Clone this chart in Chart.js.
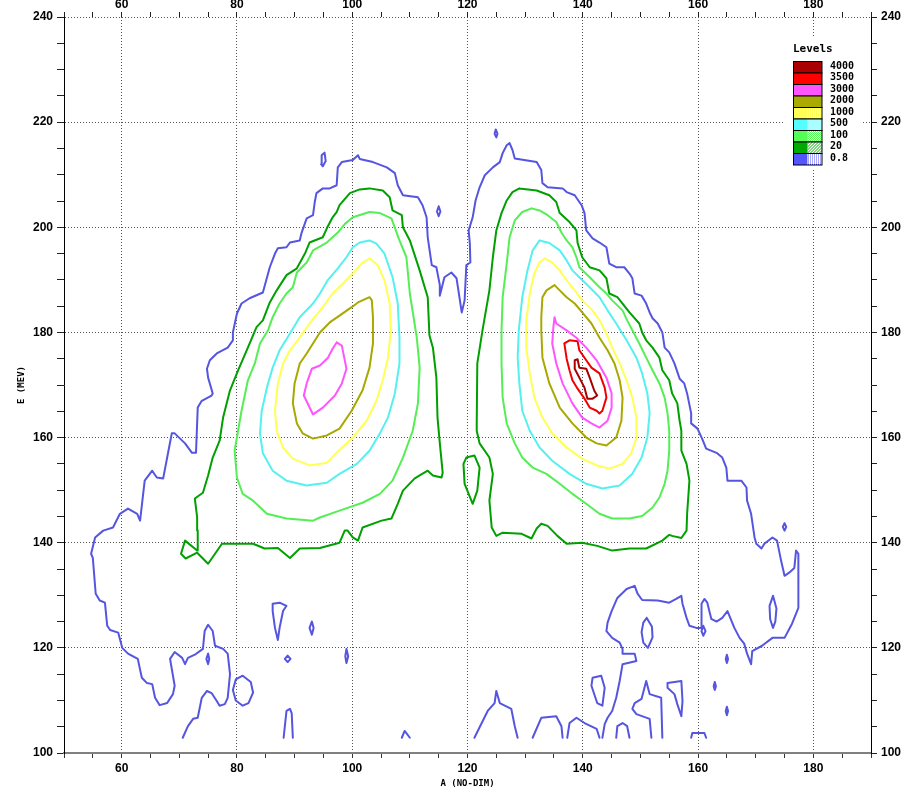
<!DOCTYPE html>
<html>
<head>
<meta charset="utf-8">
<script src="https://cdn.jsdelivr.net/npm/chart.js@4/dist/chart.umd.min.js"></script>
<style>
  html, body { margin: 0; padding: 0; background: #fff; }
  canvas { display: block; }
</style>
</head>
<body>
<canvas id="contourChart" width="907" height="792"></canvas>
<script>
// levels shown in the legend box, top to bottom
const levels = ['4000', '3500', '3000', '2000', '1000', '500', '100', '20', '0.8'];
const levelFill = ['#aa0000', '#ff0000', '#ff55ff', '#aaaa00', '#ffff55', '#55ffff', '#55ff55', '#00aa00', '#5555ff'];
const levelLine = ['#a80000', '#f00000', '#ff55ff', '#a8a800', '#ffff55', '#55f0f0', '#55ee55', '#00a000', '#5555e0'];

const xLabels = [60, 80, 100, 120, 140, 160, 180];
const yLabels = [100, 120, 140, 160, 180, 200, 220, 240];

// ---- 0.8 level (blue) ----
const blueMain = [
  [70.6,102.9],[71.5,105.1],[72.4,106.5],[73.2,106.7],[73.9,110.5],[74.8,111.8],[75.6,111.4],[76.5,109.9],[77.0,109.0],[77.9,109.3],
  [78.4,110.5],[78.8,115.0],[78.4,118.9],[77.6,119.8],[76.2,120.4],[75.8,123.2],[75.0,124.4],[74.4,123.2],[74.1,119.8],[72.7,118.7],
  [71.5,118.1],[71.0,116.9],[70.5,118.1],[69.2,119.2],[68.4,117.9],[69.2,112.8],[68.9,111.2],[67.9,109.5],[66.6,109.1],[65.8,110.5],
  [65.3,113.1],[64.4,113.3],[63.5,114.3],[62.8,117.9],[61.1,118.9],[60.1,120.0],[59.4,122.9],[58.0,123.4],[57.5,124.2],[57.1,128.6],
  [56.2,129.0],[55.5,130.3],[55.0,137.1],[54.7,137.9],[55.4,141.0],[56.8,142.3],[58.5,142.9],[59.7,145.5],[61.1,146.5],[62.7,145.5],
  [63.2,144.2],[64.0,151.8],[65.3,153.7],[66.1,152.4],[67.2,152.2],[67.9,156.2],[68.7,160.8],[69.2,160.8],[71.0,158.9],[72.2,157.1],
  [72.9,157.1],[73.2,165.7],[73.9,167.0],[75.6,168.0],[75.8,168.4],[75.0,171.4],[74.8,173.1],[75.3,174.7],[76.5,176.0],[78.4,177.1],
  [79.3,178.5],[79.3,180.0],[80.0,183.6],[80.8,185.5],[82.2,186.5],[84.5,187.6],[85.7,192.4],[86.6,195.0],[87.1,196.0],[88.6,196.2],
  [89.2,197.1],[90.9,197.5],[91.2,198.9],[92.1,201.7],[93.2,202.3],[93.5,204.8],[93.8,206.5],[94.9,207.4],[96.1,207.4],[97.3,208.0],
  [97.5,211.4],[98.2,212.4],[100.1,212.8],[101.0,213.7],[101.3,213.0],[103.6,212.4],[106.0,211.4],[107.4,210.3],[107.9,208.0],[108.8,206.1],
  [111.4,205.7],[112.2,204.2],[112.9,201.9],[113.1,198.1],[113.8,192.8],[114.6,192.4],[115.2,189.0],[115.2,187.0],[116.0,190.5],[117.2,191.4],
  [118.1,190.3],[118.6,186.7],[119.0,183.8],[119.5,186.1],[119.8,192.8],[120.5,193.3],[120.4,197.0],[120.2,199.4],[120.9,201.9],[121.4,205.1],
  [122.1,207.6],[123.0,209.9],[124.4,211.4],[125.6,212.4],[126.1,214.1],[126.8,215.6],[127.3,216.0],[127.8,214.7],[128.2,213.1],[132.0,212.4],
  [132.8,210.9],[133.0,208.4],[133.9,207.6],[136.5,207.4],[137.2,206.7],[138.6,206.1],[139.8,204.2],[140.3,202.7],[140.6,199.4],[141.7,197.9],
  [142.9,197.1],[144.1,196.2],[144.6,193.1],[145.8,192.4],[147.2,192.4],[148.1,191.2],[148.6,190.3],[149.0,187.4],[150.2,187.0],[151.0,185.5],
  [151.6,183.8],[152.1,182.7],[153.0,181.7],[153.8,180.0],[154.2,177.1],[155.0,176.2],[155.9,174.1],[156.8,171.2],[157.6,170.3],[158.1,168.4],
  [158.8,164.6],[158.8,162.7],[159.9,161.7],[160.7,159.8],[161.4,157.9],[163.2,157.1],[164.2,156.2],[164.9,154.3],[165.1,151.8],[167.5,151.8],
  [168.4,150.5],[168.5,148.0],[169.2,145.5],[169.8,141.0],[170.1,139.8],[171.0,138.9],[171.5,139.8],[172.9,141.0],[173.7,140.4],[174.4,136.6],
  [175.0,133.7],[175.8,134.3],[176.7,135.2],[177.0,138.5],[177.4,137.9],[177.4,127.6],[176.3,124.6],[175.0,121.9],[172.9,121.9],[171.1,120.4],
  [169.4,119.4],[169.2,116.9],[168.5,118.9],[168.0,120.8],[167.2,121.9],[166.3,123.8],[165.1,127.0],[164.2,125.7],[163.2,125.0],[162.3,125.5],
  [161.6,128.6],[161.1,129.3],[160.6,128.4],[160.6,123.8],[159.7,123.8],[158.5,124.2],[158.0,125.7],[157.3,128.4],[157.1,129.9],[156.2,129.3],
  [155.0,128.6],[153.0,129.0],[150.3,129.1],[149.5,130.3],[149.0,131.8],[147.6,131.2],[146.0,129.5],[145.0,127.0],[144.3,124.8],[144.1,123.2],
  [145.1,121.9],[146.4,121.0],[146.9,119.8],[146.9,118.9],[149.0,118.9],[149.3,117.5],[146.9,116.9],[146.4,113.7],[145.8,110.5],[145.1,108.0],
  [144.3,106.7],[143.8,105.5],[143.4,102.9]
];

// small closed blue islands
const blueIslands = [
  [[94.6,212.0],[94.7,213.7],[95.2,214.2],[95.4,212.6],[94.9,211.6]],
  [[115.0,204.0],[115.3,203.0],[115.0,202.1],[114.7,203.0]],
  [[124.9,218.6],[125.2,217.8],[125.0,217.1],[124.7,217.8]],
  [[175.0,143.7],[175.3,143.0],[175.0,142.3],[174.7,143.0]],
  [[173.0,129.9],[173.6,127.5],[173.4,125.0],[173.0,123.8],[172.5,125.5],[172.4,128.0]],
  [[151.1,125.7],[152.0,124.0],[152.1,122.0],[151.3,120.0],[150.5,121.0],[150.2,123.0],[150.5,124.8]],
  [[160.9,124.2],[161.3,123.2],[160.9,122.3],[160.6,123.2]],
  [[165.0,118.7],[165.2,117.9],[165.0,117.1],[164.8,117.9]],
  [[162.9,113.5],[163.1,112.7],[162.9,112.0],[162.7,112.7]],
  [[165.0,108.8],[165.2,108.0],[165.0,107.2],[164.8,108.0]],
  [[141.7,114.3],[143.2,114.7],[143.8,112.4],[143.4,109.0],[142.5,109.5],[141.5,112.8]],
  [[154.7,113.3],[157.1,113.7],[157.3,109.9],[157.1,107.0],[156.4,109.3],[155.9,111.2],[154.7,112.4]],
  [[86.2,128.4],[87.4,128.6],[88.6,128.0],[88.0,127.0],[87.4,123.8],[87.1,121.5],[86.6,123.8],[86.2,127.0]],
  [[93.0,125.0],[93.3,123.8],[93.0,122.5],[92.6,123.8]],
  [[75.0,118.9],[75.2,117.9],[75.0,116.9],[74.7,117.9]],
  [[88.8,118.5],[89.3,117.9],[88.8,117.3],[88.3,117.9]],
  [[99.0,119.8],[99.3,118.4],[99.0,117.1],[98.8,118.4]],
  [[81.0,114.7],[82.4,113.5],[82.8,111.5],[82.0,109.5],[81.0,109.0],[79.8,110.0],[79.3,112.0],[79.8,114.0]]
];

// open blue pieces cut by the lower edge of the data
const blueBottom = [
  [[121.2,102.9],[123.5,108.0],[124.7,109.5],[125.0,111.8],[125.6,109.5],[127.6,108.4],[128.2,105.1],[128.7,102.9]],
  [[131.3,102.9],[132.8,106.7],[135.4,107.0],[136.3,105.1],[136.5,102.9]],
  [[137.3,102.9],[137.7,105.7],[138.9,106.7],[140.3,105.7],[142.4,104.6],[142.9,102.9]],
  [[145.8,102.9],[146.0,105.1],[146.9,105.7],[147.7,105.1],[148.1,102.9]],
  [[151.9,102.9],[151.6,106.5],[149.3,107.4],[148.6,108.4],[149.0,109.5],[150.2,110.3],[150.7,112.4],[151.0,113.7],[151.6,111.2],[153.6,110.5],[153.8,102.9]],
  [[158.8,102.9],[159.0,103.8],[161.1,103.8],[161.4,102.9]],
  [[88.1,102.9],[88.6,108.0],[89.2,108.4],[89.5,107.6],[89.7,102.9]],
  [[108.6,102.9],[109.1,104.2],[110.0,102.9]]
];

// ---- 20 level (dark green) ----
const green20Left = [
  [73.2,142.3],[73.1,144.8],[72.7,148.4],[74.1,149.5],[75.0,152.8],[75.8,156.2],[77.0,159.4],[77.6,163.8],[78.8,169.0],[80.2,172.8],
  [81.9,177.1],[83.4,181.0],[84.5,182.3],[85.7,185.7],[86.9,188.0],[88.6,190.9],[90.4,192.2],[91.8,195.0],[92.6,197.1],[94.9,198.1],
  [95.6,199.8],[96.6,201.9],[97.3,202.9],[97.8,204.2],[99.6,206.5],[101.3,207.2],[103.0,207.4],[105.3,207.0],[106.5,205.7],[107.0,203.2],
  [108.6,202.3],[108.8,200.0],[110.0,197.5],[111.7,191.8],[113.1,186.7],[113.4,179.4],[114.0,177.1],[114.6,171.4],[114.8,163.8],[115.2,158.9],
  [115.7,153.3],[115.5,152.4],[114.0,152.8],[113.1,153.7],[111.7,152.8],[110.8,152.2],[108.8,149.9],[107.9,147.4],[106.8,144.6],[105.1,144.2],
  [101.8,142.9],[101.0,140.4],[100.1,141.0],[99.2,142.3],[98.7,142.3],[97.8,140.0],[94.4,139.0],[90.9,138.9],[89.2,137.1],[87.1,139.0],
  [84.8,138.9],[82.8,139.8],[77.4,139.8],[75.0,136.0],[73.1,138.1],[71.1,137.0],[70.3,137.9],[71.0,140.4],[73.1,138.5]
];
const green20Right = [
  [129.0,207.4],[132.0,207.0],[134.2,206.1],[135.4,204.8],[136.0,202.7],[137.7,201.0],[138.9,199.4],[139.1,197.0],[139.9,194.3],[141.2,192.4],
  [142.9,191.8],[144.1,190.3],[144.6,187.4],[146.0,186.7],[146.9,185.5],[148.1,183.8],[149.8,181.7],[150.3,180.0],[151.0,178.5],[152.1,177.1],
  [153.3,175.2],[153.8,172.8],[155.0,170.9],[155.5,168.4],[156.4,166.5],[156.8,163.2],[157.1,161.3],[157.1,157.5],[158.0,155.0],[158.5,151.8],
  [158.1,145.5],[158.0,142.3],[157.1,140.9],[155.5,141.3],[155.0,141.5],[153.8,140.4],[151.0,138.9],[148.1,138.9],[145.1,138.5],[142.5,139.4],
  [139.9,140.0],[137.2,139.8],[135.6,141.3],[133.9,143.2],[132.8,143.6],[132.0,142.7],[131.1,140.8],[129.4,141.7],[126.1,141.9],[125.0,141.3],
  [124.2,142.9],[123.8,148.0],[124.4,153.1],[123.8,156.2],[122.1,158.9],[121.6,161.3],[121.6,162.7],[121.7,174.1],[122.6,180.4],[123.8,188.0],
  [124.4,194.3],[125.0,199.4],[125.9,202.7],[126.8,205.1],[127.8,206.7]
];
const green20Island = [[119.8,156.2],[121.2,156.6],[122.1,154.3],[121.7,149.9],[120.9,147.4],[119.5,151.2],[119.3,155.0]];

// ---- 100 level (light green) ----
const green100Left = [
  [100.1,201.9],[103.0,202.9],[104.8,202.7],[106.8,201.7],[108.2,197.5],[109.4,194.3],[110.0,187.4],[111.2,179.0],[111.7,173.3],[111.4,166.5],
  [110.5,161.3],[108.8,156.2],[107.0,151.8],[104.8,149.3],[101.8,147.6],[97.8,146.1],[94.4,144.8],[93.2,144.2],[88.6,144.6],[85.2,145.5],
  [82.8,148.0],[81.0,149.3],[80.0,152.4],[79.6,157.5],[80.2,161.3],[80.8,165.1],[81.9,170.9],[83.1,174.1],[84.0,177.9],[85.4,180.4],
  [86.2,182.9],[87.4,185.5],[88.6,187.4],[89.7,188.6],[90.4,191.4],[92.1,193.3],[93.2,195.6],[95.6,197.1],[97.5,199.0],[98.7,200.6]
];
const green100Right = [
  [131.1,203.6],[132.5,203.2],[133.9,202.3],[135.4,201.0],[136.3,199.0],[137.2,197.5],[138.2,196.2],[138.9,194.3],[139.4,192.4],[141.2,190.5],
  [142.9,188.6],[144.1,187.4],[145.1,186.1],[146.9,184.2],[147.7,182.3],[148.6,180.4],[149.8,177.9],[151.0,175.2],[152.1,172.8],[153.3,170.3],
  [154.2,167.6],[154.7,164.6],[155.0,161.3],[155.0,157.5],[154.7,153.7],[154.2,151.2],[153.3,148.6],[152.1,146.7],[150.3,145.1],[148.1,144.6],
  [145.1,144.6],[142.9,145.5],[140.6,147.4],[138.2,149.3],[136.0,151.2],[133.7,153.1],[131.3,154.3],[129.5,156.2],[128.2,158.9],[126.8,162.7],
  [126.1,167.6],[125.9,174.1],[125.9,180.4],[126.1,186.7],[126.8,193.1],[127.3,198.1],[128.2,201.3],[129.5,202.9]
];

// ---- 500 level (cyan) ----
const cyan500Left = [
  [103.0,197.5],[101.3,197.1],[100.1,196.2],[99.0,194.3],[97.5,192.2],[95.8,190.0],[94.4,187.4],[93.2,185.5],[90.9,182.9],[89.2,179.8],
  [87.4,176.6],[86.2,173.3],[85.2,169.5],[84.3,165.1],[84.0,160.8],[84.5,157.0],[86.2,153.7],[88.6,151.8],[92.1,150.9],[95.6,151.4],
  [97.8,153.1],[100.8,155.0],[103.0,157.5],[104.8,160.8],[106.2,163.8],[107.4,168.4],[108.2,174.1],[108.2,179.0],[107.9,185.5],[107.0,190.5],
  [105.6,195.0],[104.2,196.9]
];
const cyan500Right = [
  [132.5,197.5],[134.2,197.0],[136.0,195.6],[137.2,193.7],[138.2,191.8],[139.4,190.5],[141.2,188.6],[142.9,186.7],[144.3,184.2],[145.8,181.7],
  [147.6,178.5],[149.3,175.2],[150.3,172.2],[151.2,168.4],[151.6,164.6],[151.2,160.0],[150.2,156.2],[148.6,153.1],[146.4,150.9],[143.4,150.3],
  [140.6,151.2],[137.7,153.1],[134.7,155.6],[132.5,158.1],[130.8,161.3],[129.5,165.1],[129.0,170.3],[128.7,175.2],[128.9,180.4],[129.5,186.7],
  [130.4,191.8],[131.3,195.6]
];

// ---- 1000 level (yellow) ----
const yellow1000Left = [
  [103.0,194.1],[101.6,193.1],[100.1,191.2],[98.4,189.3],[96.6,187.4],[94.9,184.8],[92.6,181.7],[90.9,179.0],[89.2,176.6],[88.0,174.1],
  [87.1,170.3],[86.6,165.1],[86.9,161.3],[88.0,158.1],[89.7,156.0],[92.6,154.7],[95.6,155.2],[97.3,157.1],[100.1,160.0],[102.5,163.2],
  [104.2,167.0],[105.3,170.9],[106.2,175.2],[106.7,180.4],[106.5,185.5],[105.6,189.9],[104.4,192.8]
];
const yellow1000Right = [
  [133.4,194.1],[134.7,193.3],[136.0,191.8],[137.2,189.9],[138.6,188.0],[139.9,186.1],[141.7,184.2],[142.9,182.3],[144.1,179.8],[145.1,177.1],
  [146.4,174.1],[147.6,170.9],[148.6,167.6],[149.3,163.8],[149.3,160.0],[148.4,157.0],[146.9,155.0],[144.6,154.1],[142.4,154.7],[139.9,156.0],
  [137.2,158.1],[134.7,160.8],[133.0,163.8],[131.6,167.6],[130.8,172.2],[130.2,177.1],[130.2,182.3],[130.8,187.4],[131.6,191.2],[132.5,193.3]
];

// ---- 2000 level (olive) ----
const olive2000Left = [
  [103.0,186.7],[101.0,185.7],[99.9,184.8],[97.8,183.2],[96.1,181.9],[94.4,180.0],[92.1,176.0],[90.9,174.1],[90.0,170.3],[89.7,166.5],
  [90.4,162.7],[91.4,160.8],[93.2,159.8],[95.6,160.4],[97.8,161.7],[99.9,165.1],[101.8,169.0],[103.0,173.3],[103.6,177.9],[103.6,182.9],
  [103.4,186.1]
];
const olive2000Right = [
  [135.1,189.0],[136.0,188.0],[137.2,186.7],[138.6,185.5],[139.9,183.8],[141.5,181.7],[142.9,179.0],[144.3,176.6],[145.5,174.1],[146.4,170.9],
  [146.9,167.6],[146.7,163.2],[145.8,160.0],[144.1,158.5],[142.4,158.9],[140.6,160.0],[138.2,162.7],[136.0,165.7],[134.2,170.3],[133.0,175.2],
  [132.8,180.4],[132.8,182.9],[133.0,186.7],[133.7,188.0]
];

// ---- 3000 level (magenta) ----
const magenta3000Left = [
  [97.3,178.1],[98.2,177.5],[99.0,173.1],[98.2,170.3],[97.0,168.0],[94.9,165.7],[93.2,164.4],[91.6,168.0],[92.1,170.3],[93.0,173.1],
  [94.4,173.7],[95.8,175.2],[96.6,176.9]
];
const magenta3000Right = [
  [135.1,182.9],[135.4,181.7],[137.2,180.4],[138.9,179.0],[140.6,177.1],[142.4,174.7],[144.1,171.4],[145.0,168.4],[145.0,165.7],[144.3,163.2],
  [142.9,161.9],[141.5,162.7],[139.9,163.8],[138.2,166.5],[136.5,170.3],[135.4,174.1],[134.7,177.9],[134.9,181.0]
];

// ---- 3500 level (red) ----
const red3500 = [
  [136.8,177.9],[137.7,178.5],[139.1,178.3],[139.4,176.6],[140.6,174.7],[141.5,173.3],[142.9,172.2],[143.8,169.5],[144.1,167.6],[143.4,165.1],
  [142.9,164.6],[142.4,165.1],[141.2,165.7],[140.3,167.4],[139.1,169.3],[138.2,170.9],[137.7,172.8],[137.2,175.0]
];

// ---- 4000 level (dark red) ----
const darkRed4000 = [
  [138.6,174.7],[139.1,174.9],[139.4,173.3],[140.6,173.1],[141.2,171.4],[142.0,168.9],[142.5,168.0],[141.7,167.4],[140.8,167.4],[140.3,169.5],
  [139.4,171.4],[138.6,173.1]
];

// ------------------------------------------------------------
function contour(pts, color, closed) {
    const data = pts.map(p => ({x: p[0], y: p[1]}));
    if (closed) data.push({x: pts[0][0], y: pts[0][1]});
    return {
        data: data,
        showLine: true,
        borderColor: color,
        borderWidth: 2,
        pointRadius: 0,
        pointHoverRadius: 0,
        tension: 0,
        fill: false,
        borderJoinStyle: 'round',
        borderCapStyle: 'round'
    };
}

const blue = levelLine[8];
const datasets = [contour(blueMain, blue, false)];
blueIslands.forEach(p => datasets.push(contour(p, blue, true)));
blueBottom.forEach(p => datasets.push(contour(p, blue, false)));
datasets.push(contour(green20Left, levelLine[7], true));
datasets.push(contour(green20Right, levelLine[7], true));
datasets.push(contour(green20Island, levelLine[7], true));
datasets.push(contour(green100Left, levelLine[6], true));
datasets.push(contour(green100Right, levelLine[6], true));
datasets.push(contour(cyan500Left, levelLine[5], true));
datasets.push(contour(cyan500Right, levelLine[5], true));
datasets.push(contour(yellow1000Left, levelLine[4], true));
datasets.push(contour(yellow1000Right, levelLine[4], true));
datasets.push(contour(olive2000Left, levelLine[3], true));
datasets.push(contour(olive2000Right, levelLine[3], true));
datasets.push(contour(magenta3000Left, levelLine[2], true));
datasets.push(contour(magenta3000Right, levelLine[2], true));
datasets.push(contour(red3500, levelLine[1], true));
datasets.push(contour(darkRed4000, levelLine[0], true));

// ticks every 5 units, labels only on the 20s
function everyFive(min, max) {
    const out = [];
    for (let v = min; v <= max; v += 5) out.push({value: v});
    return out;
}
const tickFont = {family: '"Liberation Sans", Arial, sans-serif', size: 12, weight: 'bold'};
const gridColor = ctx => (ctx.tick && ctx.tick.value % 20 === 0) ? '#555' : 'rgba(0,0,0,0)';

function axis(pos, min, max, labels, extra) {
    const isX = pos === 'top' || pos === 'bottom';
    return Object.assign({
        type: 'linear',
        position: pos,
        min: min,
        max: max,
        afterBuildTicks: s => { s.ticks = everyFive(min, max); },
        ticks: {
            autoSkip: false,
            maxRotation: 0,
            color: '#000',
            font: tickFont,
            callback: v => labels.includes(v) ? String(v) : ''
        },
        grid: {
            drawOnChartArea: false,
            color: gridColor,
            tickColor: '#222',
            tickLength: isX ? 5 : 7
        },
        border: {color: '#000', width: 1}
    }, extra);
}

// the "Levels" box in the upper right
const levelsBox = {
    id: 'levelsBox',
    afterDatasetsDraw(chart) {
        const ctx = chart.ctx;
        ctx.save();
        ctx.fillStyle = '#fff';
        ctx.fillRect(785, 38, 76, 131);
        ctx.fillStyle = '#000';
        ctx.font = 'bold 11px "DejaVu Sans Mono", monospace';
        ctx.textBaseline = 'middle';
        ctx.textAlign = 'left';
        ctx.fillText('Levels', 793, 49);
        ctx.font = 'bold 10px "DejaVu Sans Mono", monospace';
        const h = 11.5;
        levels.forEach((lv, i) => {
            const y = 61.5 + i * h;
            const c = levelFill[i];
            ctx.fillStyle = c;
            ctx.fillRect(793, y, 29, h);
            if (i >= 4) {
                // patterned right half
                ctx.fillStyle = '#fff';
                ctx.fillRect(807.5, y, 14.5, h);
                ctx.save();
                ctx.beginPath();
                ctx.rect(807.5, y, 14.5, h);
                ctx.clip();
                ctx.strokeStyle = c;
                ctx.lineWidth = 1;
                ctx.beginPath();
                if (i === 4) {
                    for (let x = 808.5; x < 822; x += 2) { ctx.moveTo(x, y); ctx.lineTo(x, y + h); }
                } else if (i === 5) {
                    for (let yy = y + 1; yy < y + h; yy += 2) { ctx.moveTo(807, yy); ctx.lineTo(822, yy); }
                } else if (i === 6 || i === 7) {
                    for (let k = -12; k < 16; k += (i === 6 ? 2 : 3)) { ctx.moveTo(807 + k, y + h); ctx.lineTo(807 + k + h, y); }
                } else {
                    for (let x = 808.5; x < 822; x += 2) { ctx.moveTo(x, y); ctx.lineTo(x, y + h); }
                    ctx.stroke();
                    ctx.strokeStyle = '#fff';
                    ctx.beginPath();
                    for (let yy = y + 1.5; yy < y + h; yy += 2) { ctx.moveTo(807, yy); ctx.lineTo(822, yy); }
                }
                ctx.stroke();
                ctx.restore();
            }
            ctx.strokeStyle = '#000';
            ctx.lineWidth = 1;
            ctx.strokeRect(793.5, y, 28.5, h);
            ctx.fillStyle = '#000';
            ctx.fillText(lv, 830, y + h / 2 - 1);
        });
        ctx.restore();
    }
};

new Chart('contourChart', {
    type: 'scatter',
    data: {datasets: datasets},
    options: {
        responsive: false,
        animation: false,
        layout: {padding: 0},
        plugins: {legend: {display: false}, tooltip: {enabled: false}},
        scales: {
            x: axis('bottom', 50, 190, xLabels, {
                ticks: {autoSkip: false, maxRotation: 0, color: '#000', font: tickFont, padding: 3,
                        callback: v => xLabels.includes(v) ? String(v) : ''},
                grid: {drawOnChartArea: true, color: gridColor, tickColor: '#333', tickLength: 5},
                border: {color: '#808080', width: 2, dash: [1, 2]},
                title: {display: true, text: 'A (NO-DIM)', color: '#000',
                        font: {family: '"DejaVu Sans Mono", monospace', size: 9, weight: 'bold'},
                        padding: {top: 0, bottom: 3}},
                afterFit: s => { s.height = 39; }
            }),
            x2: axis('top', 50, 190, xLabels, {
                ticks: {autoSkip: false, maxRotation: 0, color: '#000', font: tickFont, padding: 0,
                        callback: v => xLabels.includes(v) ? String(v) : ''},
                border: {display: false},
                afterFit: s => { s.height = 17; }
            }),
            y: axis('left', 100, 240, yLabels, {
                ticks: {autoSkip: false, color: '#000', font: tickFont, padding: 4,
                        callback: v => yLabels.includes(v) ? String(v) : ''},
                grid: {drawOnChartArea: true, color: gridColor, tickColor: '#222', tickLength: 7},
                border: {color: '#000', width: 1, dash: [1, 2]},
                title: {display: true, text: 'E (MEV)', color: '#000',
                        font: {family: '"DejaVu Sans Mono", monospace', size: 9, weight: 'bold'},
                        padding: {top: 16, bottom: 0}},
                afterFit: s => { s.width = 64; }
            }),
            y2: axis('right', 100, 240, yLabels, {
                ticks: {autoSkip: false, color: '#000', font: tickFont, padding: 4,
                        callback: v => yLabels.includes(v) ? String(v) : ''},
                grid: {drawOnChartArea: false, color: gridColor, tickColor: '#222', tickLength: 6},
                afterFit: s => { s.width = 36; }
            })
        }
    },
    plugins: [levelsBox]
});
</script>
</body>
</html>
